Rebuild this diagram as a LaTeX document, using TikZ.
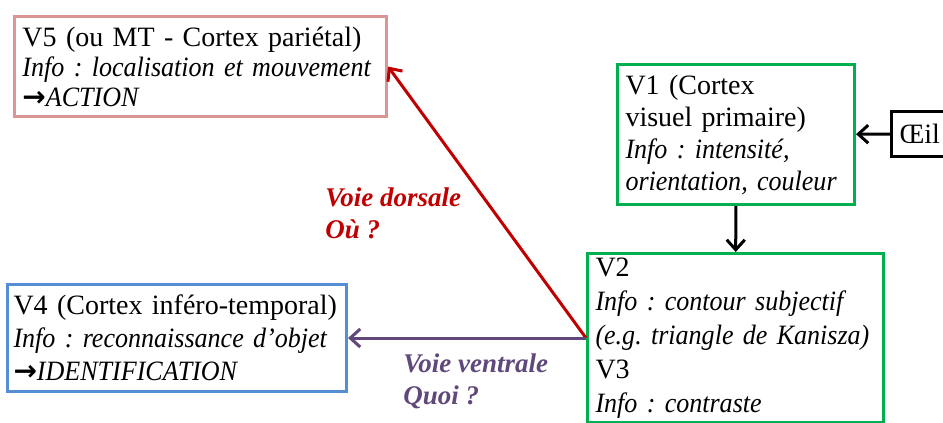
\documentclass[tikz,border=0pt]{standalone}
\usepackage{fontspec}
\setmainfont{Liberation Serif}[ItalicFeatures={FakeStretch=0.93}]
\newfontfamily\arrowfont{DejaVu Sans}
\usetikzlibrary{arrows.meta}
\definecolor{dorsalred}{RGB}{192,0,0}
\definecolor{ventralpurple}{RGB}{96,73,122}
\definecolor{areagreen}{RGB}{0,176,80}
\definecolor{areablue}{RGB}{85,142,213}
\definecolor{areapink}{RGB}{217,150,148}
\newcommand\thenarrow{{\arrowfont\bfseries →}}

\begin{document}
\frenchspacing
\begin{tikzpicture}[x=.5pt,y=-.5pt,
  font=\fontsize{14}{15}\selectfont,
  area/.style={draw,line width=1.5pt,anchor=north west,align=left,
    inner xsep=4pt,inner ysep=1pt},
  link/.style={line width=1.5pt,-{Straight Barb[length=5pt,width=9pt]}},
  way/.style={font=\fontsize{13.5}{16}\selectfont\bfseries\itshape,
    align=left,anchor=north west,inner sep=0pt}]
  \useasboundingbox (0,0) rectangle (943,423);
  % visual areas
  \node[area,draw=areapink,text width=178pt,minimum height=50pt] (V5) at (13,15)
    {V5 (ou MT - Cortex pariétal)\\
     \textit{Info : localisation et mouvement}\\
     \thenarrow\textit{ACTION}};
  \node[area,draw=areagreen,text width=110.5pt,minimum height=70pt,
    font=\fontsize{14}{16}\selectfont] (V1) at (616,63)
    {V1 (Cortex\\
     visuel primaire)\\
     \textit{Info : intensité,}\\
     \textit{orientation, couleur}};
  \node[area,draw=areagreen,text width=140pt,minimum height=84.5pt,
    font=\fontsize{14}{17}\selectfont] (V2) at (586,252)
    {V2\\
     \textit{Info : contour subjectif}\\
     \textit{(e.g. triangle de Kanisza)}\\
     V3\\
     \textit{Info : contraste}};
  \node[area,draw=areablue,text width=163.5pt,minimum height=53.5pt,
    inner xsep=3pt,font=\fontsize{14}{16.5}\selectfont] (V4) at (6,283)
    {\mbox{V4 (Cortex inféro-temporal)}\\
     \textit{Info : reconnaissance d’objet}\\
     \thenarrow\textit{IDENTIFICATION}};
  \node[area,draw=black,minimum height=22.5pt] (eye) at (890,110) {Œil};
  % pathways
  \draw[link] (eye) -- (V1);
  \draw[link] (V1) -- (V2);
  \draw[link,dorsalred] (V2.west) -- (V5.east);
  \draw[link,ventralpurple] (V2.west) -- (V4.east);
  \node[way,text=dorsalred] (dorsal) at (325,187) {Voie dorsale\\Où ?};
  \node[way,text=ventralpurple] (ventral) at (403,353) {Voie ventrale\\Quoi ?};
\end{tikzpicture}
\end{document}
